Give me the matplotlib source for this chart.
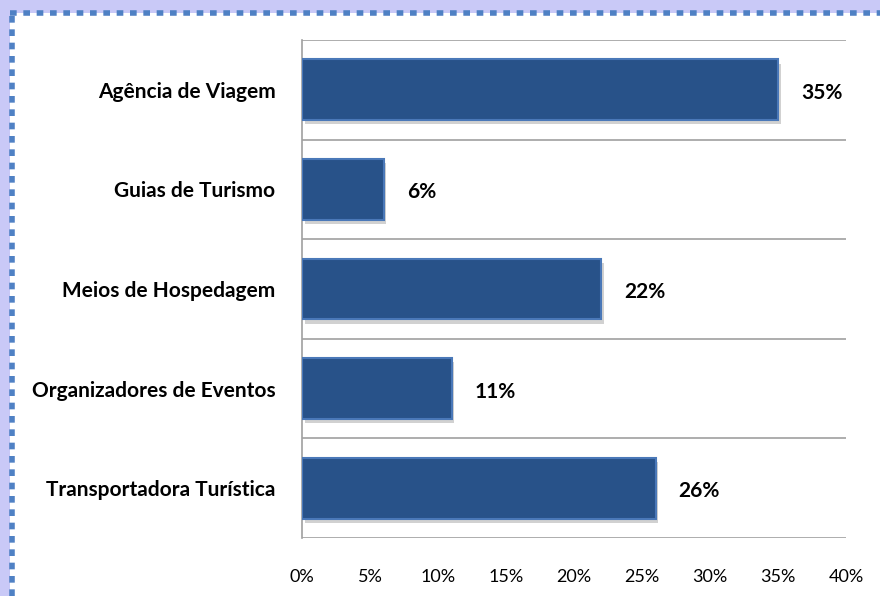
import matplotlib.pyplot as plt
import matplotlib.patheffects as pe
from matplotlib.patches import Rectangle
from matplotlib.lines import Line2D
from matplotlib.ticker import FuncFormatter

plt.rcParams['font.family'] = ['Lato', 'DejaVu Sans']

categorias = ['Agência de Viagem', 'Guias de Turismo', 'Meios de Hospedagem',
              'Organizadores de Eventos', 'Transportadora Turística']
valores = [35, 6, 22, 11, 26]
ticks_x = [0, 5, 10, 15, 20, 25, 30, 35, 40]

fig = plt.figure(figsize=(8.8, 5.96), dpi=100)
fig.patch.set_facecolor('#c9c9f7')

# white panel with dotted border
fig.patches.append(Rectangle((10/880, 0), 1, 1 - 13/596, transform=fig.transFigure,
                             facecolor='white', edgecolor='none', zorder=-10))
fig.lines.append(Line2D([10/880, 1], [1 - 13/596, 1 - 13/596], transform=fig.transFigure,
                        color='#4f81c4', lw=4, ls=(0, (1.2, 1.2)), zorder=-5))
fig.lines.append(Line2D([11.5/880, 11.5/880], [0, 1 - 13/596], transform=fig.transFigure,
                        color='#4f81c4', lw=4, ls=(0, (1.2, 1.2)), zorder=-5))

ax = fig.add_axes([302/880, 1 - 538/596, 544/880, 498/596])
ax.set_zorder(2)
ax.set_facecolor('none')

y = range(len(categorias))
bars = ax.barh(y, valores, height=0.61, color='#285289', edgecolor='#4a78b8', lw=1.5, zorder=3)
for b in bars:
    b.set_path_effects([pe.SimplePatchShadow(offset=(2, -3), shadow_rgbFace='#999999', alpha=0.45),
                        pe.Normal()])

for i, v in enumerate(valores):
    ax.text(v + 1.7, i + 0.03, f'{v}%', va='center', ha='left', fontsize=15, fontweight='bold')

ax.set_xlim(0, 40)
ax.set_ylim(len(categorias) - 0.5, -0.5)
ax.set_xticks(ticks_x)
ax.xaxis.set_major_formatter(FuncFormatter(lambda v, p: f'{v:.0f}%'))
ax.set_yticks(list(y))
ax.set_yticklabels(categorias, fontsize=15, fontweight='bold')
ax.tick_params(axis='x', length=0, pad=22, labelsize=13)
ax.tick_params(axis='y', length=0, pad=19)

for k in range(len(categorias) + 1):
    ax.axhline(k - 0.5, color='#a0a0a0', lw=1.2, zorder=1)
for s in ['top', 'right', 'bottom']:
    ax.spines[s].set_visible(False)
ax.spines['left'].set_color('#a0a0a0')
ax.spines['left'].set_linewidth(1.2)

fig.savefig('out.png', dpi=100, facecolor=fig.get_facecolor())
